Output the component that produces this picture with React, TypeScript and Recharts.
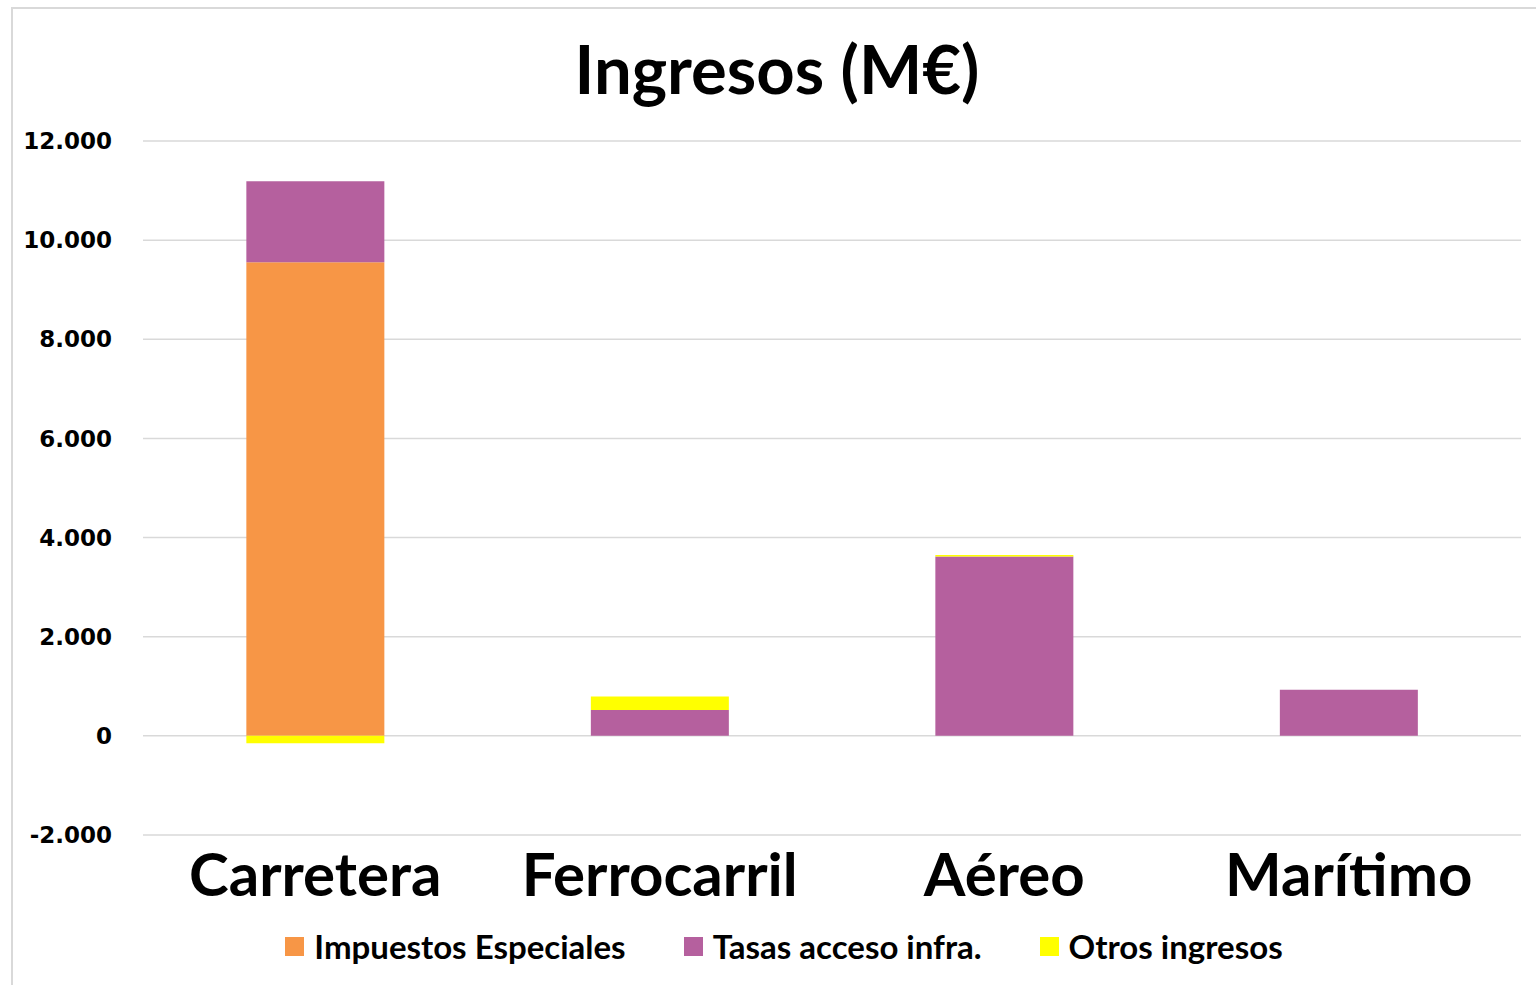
import { BarChart, Bar, XAxis, YAxis, CartesianGrid } from 'recharts'

const categories = ['Carretera', 'Ferrocarril', 'Aéreo', 'Marítimo']
const impuestosEspeciales = [9556, 0, 0, 0]
const tasasAcceso = [1634, 524, 3617, 928]
const otrosIngresos = [-150, 268, 30, 0]
const yTicks = [-2000, 0, 2000, 4000, 6000, 8000, 10000, 12000]

const series = [
  { key: 'imp', name: 'Impuestos Especiales', color: '#F79646' },
  { key: 'tasas', name: 'Tasas acceso infra.', color: '#B5609E' },
  { key: 'otros', name: 'Otros ingresos', color: '#FFFF00' },
]

const data = categories.map((cat, i) => ({
  cat,
  imp: impuestosEspeciales[i],
  tasas: tasasAcceso[i],
  otros: otrosIngresos[i],
}))

const calibri = 'Lato, "Open Sans", sans-serif'

// Spanish thousands separator: 12.000
const fmt = (v: number) => {
  const s = Math.abs(v).toString().replace(/\B(?=(\d{3})+(?!\d))/g, '.')
  return v < 0 ? '-' + s : s
}

function LegendBox() {
  return (
    <div style={{ display: 'flex', justifyContent: 'center', gap: 58, fontFamily: calibri, fontWeight: 700, fontSize: 33 }}>
      {series.map((s) => (
        <div key={s.key} style={{ display: 'flex', alignItems: 'center' }}>
          <span style={{ width: 19, height: 19, background: s.color, display: 'inline-block', marginRight: 10 }} />
          <span style={{ color: '#000' }}>{s.name}</span>
        </div>
      ))}
    </div>
  )
}

export default function App() {
  return (
    <div style={{ position: 'fixed', inset: 0, overflow: 'hidden', background: '#fff' }}>
      <div
        style={{
          position: 'absolute',
          left: 11,
          top: 7,
          width: 1600,
          height: 1100,
          borderLeft: '2px solid #d9d9d9',
          borderTop: '2px solid #d9d9d9',
        }}
      />
      <div
        style={{
          position: 'absolute',
          left: 0,
          top: 26,
          width: 1554,
          textAlign: 'center',
          fontFamily: calibri,
          fontWeight: 700,
          fontSize: 67,
          lineHeight: '84px',
          color: '#000',
        }}
      >
        Ingresos (M€)
      </div>
      <div style={{ position: 'absolute', left: 0, top: 0 }}>
        <BarChart
          width={1536}
          height={985}
          data={data}
          margin={{ top: 141, right: 15, bottom: 120, left: 0 }}
          stackOffset="sign"
          barCategoryGap="30%"
        >
          <CartesianGrid vertical={false} stroke="#d9d9d9" strokeWidth={1.5} />
          <XAxis
            dataKey="cat"
            height={30}
            axisLine={false}
            tickLine={false}
            tickSize={0}
            tickMargin={18}
            interval={0}
            tick={{ fontSize: 60, fontWeight: 700, fill: '#000', fontFamily: calibri }}
          />
          <YAxis
            width={143}
            domain={[-2000, 12000]}
            ticks={yTicks}
            tickFormatter={fmt}
            axisLine={false}
            tickLine={false}
            tickSize={0}
            tickMargin={31}
            tick={{ fontSize: 23, fontWeight: 700, fill: '#000', fontFamily: '"DejaVu Sans", Verdana, sans-serif' }}
          />
          {series.map((s) => (
            <Bar key={s.key} dataKey={s.key} name={s.name} stackId="a" fill={s.color} isAnimationActive={false} />
          ))}
        </BarChart>
      </div>
      <div style={{ position: 'absolute', left: 22, width: 1524, top: 926 }}>
        <LegendBox />
      </div>
    </div>
  )
}
